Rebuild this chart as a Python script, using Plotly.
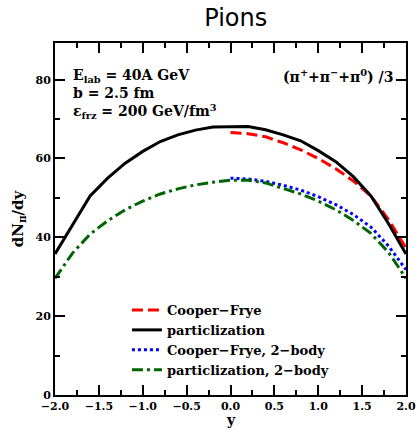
import plotly.graph_objects as go

y_full = [-2.0, -1.8, -1.6, -1.4, -1.2, -1.0, -0.8, -0.6, -0.4, -0.2, 0.0,
          0.2, 0.4, 0.6, 0.8, 1.0, 1.2, 1.4, 1.6, 1.8, 2.0]
y_half = [0.0, 0.2, 0.4, 0.6, 0.8, 1.0, 1.2, 1.4, 1.6, 1.8, 2.0]

partic = [35.8, 43.3, 50.5, 55.0, 58.8, 61.8, 64.3, 66.0, 67.2, 68.0, 68.1,
          68.1, 67.3, 66.0, 64.5, 62.0, 59.2, 55.4, 50.5, 43.5, 35.8]
cooper = [66.6, 66.3, 65.5, 64.0, 62.2, 60.0, 57.4, 54.3, 50.5, 44.5, 37.3]
cooper_2b = [55.0, 54.8, 54.2, 53.2, 52.0, 50.3, 48.3, 45.8, 42.6, 37.8, 31.8]
partic_2b = [29.6, 36.0, 40.8, 44.2, 47.0, 49.2, 51.0, 52.3, 53.3, 54.0, 54.5,
             54.5, 53.8, 52.5, 51.0, 49.2, 47.0, 44.3, 41.0, 36.2, 29.6]

serif = "DejaVu Serif"

fig = go.Figure()
fig.add_trace(go.Scatter(x=y_half, y=cooper, mode="lines", name="<b>Cooper−Frye</b>",
                         line=dict(color="#ff0000", width=3, dash="11px,5px")))
fig.add_trace(go.Scatter(x=y_full, y=partic, mode="lines", name="<b>particlization</b>",
                         line=dict(color="#000000", width=3)))
fig.add_trace(go.Scatter(x=y_half, y=cooper_2b, mode="lines", name="<b>Cooper−Frye, 2−body</b>",
                         line=dict(color="#0000ff", width=3, dash="3px,3px")))
fig.add_trace(go.Scatter(x=y_full, y=partic_2b, mode="lines", name="<b>particlization, 2−body</b>",
                         line=dict(color="#006400", width=3, dash="11px,4px,3px,4px")))

axis_common = dict(showline=True, linecolor="black", linewidth=2, mirror="ticks",
                   ticks="inside", ticklen=10, tickwidth=1.5, tickcolor="black",
                   showgrid=False, zeroline=False, automargin=False,
                   tickfont=dict(family=serif, size=11, color="black", weight="bold"))

fig.update_xaxes(range=[-2, 2], dtick=0.5, tickformat=".1f",
                 minor=dict(dtick=0.25, ticks="inside", ticklen=5, tickcolor="black", tickwidth=1.5),
                 **axis_common)
fig.update_yaxes(range=[0, 89.3], dtick=20,
                 minor=dict(dtick=10, ticks="inside", ticklen=5, tickcolor="black", tickwidth=1.5),
                 title=dict(text="<b>dN<sub>π</sub>/dy</b>", font=dict(family=serif, size=15, color="black"), standoff=8),
                 **axis_common)

# x-axis title
fig.add_annotation(xref="paper", yref="paper", x=0.5, y=-35 / 352, xanchor="center", yanchor="bottom",
                   showarrow=False, text="<b>y</b>",
                   font=dict(family=serif, size=14, color="black"))

fig.add_annotation(xref="paper", yref="paper", x=0.045, y=0.938, xanchor="left", yanchor="top",
                   align="left", showarrow=False,
                   text="<b>E<sub>lab</sub> = 40A GeV<br>b = 2.5 fm<br>ε<sub>frz</sub> = 200 GeV/fm<sup>3</sup></b>",
                   font=dict(family=serif, size=14, color="black"))
fig.add_annotation(xref="paper", yref="paper", x=0.97, y=0.905, xanchor="right", yanchor="middle",
                   showarrow=False,
                   text="<b>(π<sup>+</sup>+π<sup>−</sup>+π<sup>0</sup>) /3</b>",
                   font=dict(family=serif, size=14, color="black"))

fig.update_layout(
    width=417, height=430,
    margin=dict(l=55, r=11, t=43, b=35, autoexpand=False),
    paper_bgcolor="white", plot_bgcolor="white",
    title=dict(text="Pions", x=0.515, xref="paper", y=1 - 18 / 430, yanchor="middle",
               font=dict(family="DejaVu Sans", size=24, color="black"), automargin=False),
    showlegend=True,
    legend=dict(x=0.205, y=0.284, xanchor="left", yanchor="top", bgcolor="rgba(0,0,0,0)",
                font=dict(family=serif, size=13, color="black"), tracegroupgap=0,
                itemwidth=30),
)

fig.write_html("out.html")
